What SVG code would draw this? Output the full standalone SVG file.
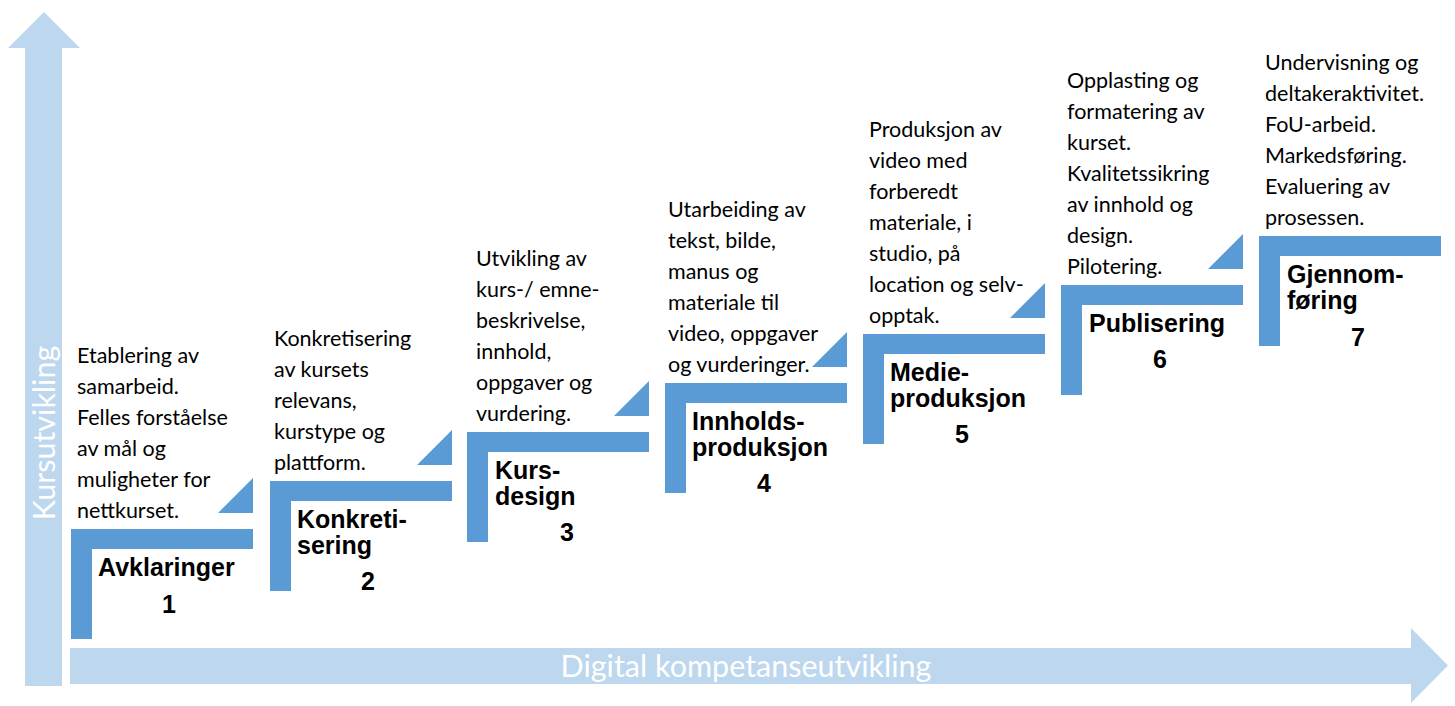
<svg xmlns="http://www.w3.org/2000/svg" width="1455" height="706" viewBox="0 0 1455 706">
<style>
.axis{fill:#BDD7EE}
.axl{fill:#ffffff;font-family:Lato,"Liberation Sans",sans-serif;font-size:30.5px}
.step{fill:#5B9BD5}
.desc{fill:#000;font-family:Lato,"Liberation Sans",sans-serif;font-size:21.5px}
.ttl{fill:#000;font-family:"Liberation Sans",Arial,sans-serif;font-size:25px;font-weight:bold}
.num{fill:#000;font-family:"Liberation Sans",Arial,sans-serif;font-size:25px;font-weight:bold;text-anchor:middle}
</style>
<rect width="1455" height="706" fill="#fff"/>
<g id="connectors">
  <path class="axis" d="M25,686 L25,48 L8,48 L44,12 L80,48 L62,48 L62,686 Z"/>
  <path class="axis" d="M70,648 L1411,648 L1411,628 L1448,665.5 L1411,703 L1411,684 L70,684 Z"/>
  <text class="axl" transform="translate(55,433) rotate(-90)" text-anchor="middle">Kursutvikling</text>
  <text class="axl" x="746" y="677" text-anchor="middle">Digital kompetanseutvikling</text>
</g>
<g id="step1">
  <path class="step" d="M71,529 H253 V549 H92 V639 H71 Z"/>
  <path class="step" d="M218,513 H253 V478 Z"/>
  <text class="desc"><tspan x="77" y="363">Etablering av</tspan><tspan x="77" y="394">samarbeid.</tspan><tspan x="77" y="425">Felles forståelse</tspan><tspan x="77" y="456">av mål og</tspan><tspan x="77" y="487">muligheter for</tspan><tspan x="77" y="518">nettkurset.</tspan></text>
  <text class="ttl" x="98" y="576">Avklaringer</text>
  <text class="num" x="169" y="613">1</text>
</g>
<g id="step2">
  <path class="step" d="M270,481 H452 V501 H291 V591 H270 Z"/>
  <path class="step" d="M417,465 H452 V430 Z"/>
  <text class="desc"><tspan x="274" y="346">Konkretisering</tspan><tspan x="274" y="377">av kursets</tspan><tspan x="274" y="408">relevans,</tspan><tspan x="274" y="439">kurstype og</tspan><tspan x="274" y="470">plattform.</tspan></text>
  <text class="ttl"><tspan x="297" y="528">Konkreti-</tspan><tspan x="297" y="554">sering</tspan></text>
  <text class="num" x="368" y="590">2</text>
</g>
<g id="step3">
  <path class="step" d="M467,432 H649 V452 H488 V542 H467 Z"/>
  <path class="step" d="M614,416 H649 V381 Z"/>
  <text class="desc"><tspan x="476" y="266">Utvikling av</tspan><tspan x="476" y="297">kurs-/ emne-</tspan><tspan x="476" y="328">beskrivelse,</tspan><tspan x="476" y="359">innhold,</tspan><tspan x="476" y="390">oppgaver og</tspan><tspan x="476" y="421">vurdering.</tspan></text>
  <text class="ttl"><tspan x="495" y="479">Kurs-</tspan><tspan x="495" y="505">design</tspan></text>
  <text class="num" x="567" y="541">3</text>
</g>
<g id="step4">
  <path class="step" d="M665,383 H847 V403 H686 V493 H665 Z"/>
  <path class="step" d="M812,367 H847 V332 Z"/>
  <text class="desc"><tspan x="668" y="217">Utarbeiding av</tspan><tspan x="668" y="248">tekst, bilde,</tspan><tspan x="668" y="279">manus og</tspan><tspan x="668" y="310">materiale til</tspan><tspan x="668" y="341">video, oppgaver</tspan><tspan x="668" y="372">og vurderinger.</tspan></text>
  <text class="ttl"><tspan x="692" y="430">Innholds-</tspan><tspan x="692" y="456">produksjon</tspan></text>
  <text class="num" x="764" y="492">4</text>
</g>
<g id="step5">
  <path class="step" d="M863,334 H1045 V354 H884 V444 H863 Z"/>
  <path class="step" d="M1010,318 H1045 V283 Z"/>
  <text class="desc"><tspan x="869" y="137">Produksjon av</tspan><tspan x="869" y="168">video med</tspan><tspan x="869" y="199">forberedt</tspan><tspan x="869" y="230">materiale, i</tspan><tspan x="869" y="261">studio, på</tspan><tspan x="869" y="292">location og selv-</tspan><tspan x="869" y="323">opptak.</tspan></text>
  <text class="ttl"><tspan x="890" y="381">Medie-</tspan><tspan x="890" y="407">produksjon</tspan></text>
  <text class="num" x="962" y="443">5</text>
</g>
<g id="step6">
  <path class="step" d="M1061,285 H1243 V305 H1082 V395 H1061 Z"/>
  <path class="step" d="M1208,269 H1243 V234 Z"/>
  <text class="desc"><tspan x="1067" y="88">Opplasting og</tspan><tspan x="1067" y="119">formatering av</tspan><tspan x="1067" y="150">kurset.</tspan><tspan x="1067" y="181">Kvalitetssikring</tspan><tspan x="1067" y="212">av innhold og</tspan><tspan x="1067" y="243">design.</tspan><tspan x="1067" y="274">Pilotering.</tspan></text>
  <text class="ttl" x="1089" y="332">Publisering</text>
  <text class="num" x="1160" y="368">6</text>
</g>
<g id="step7">
  <path class="step" d="M1259,236 H1441 V256 H1280 V346 H1259 Z"/>
  <text class="desc"><tspan x="1265" y="70">Undervisning og</tspan><tspan x="1265" y="101">deltakeraktivitet.</tspan><tspan x="1265" y="132">FoU-arbeid.</tspan><tspan x="1265" y="163">Markedsføring.</tspan><tspan x="1265" y="194">Evaluering av</tspan><tspan x="1265" y="225">prosessen.</tspan></text>
  <text class="ttl"><tspan x="1287" y="283">Gjennom-</tspan><tspan x="1287" y="309">føring</tspan></text>
  <text class="num" x="1358" y="346">7</text>
</g>
</svg>
